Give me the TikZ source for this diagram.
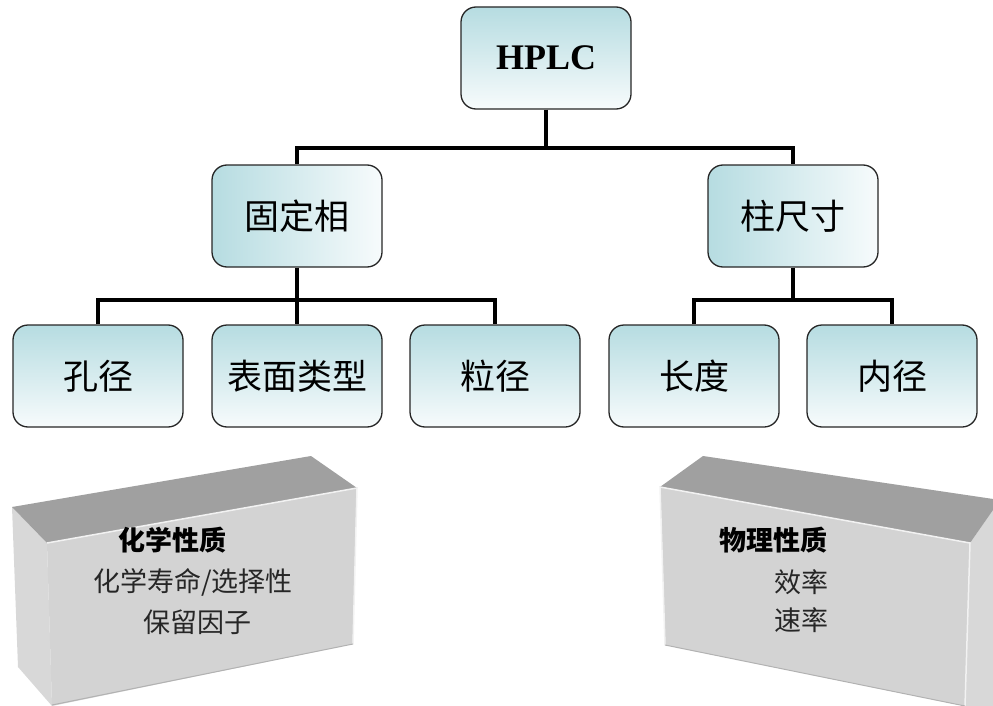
\documentclass[tikz,border=0pt]{standalone}
\usepackage{fontspec}
\setmainfont{Liberation Serif}
\newfontfamily\cjk{Noto Sans CJK SC}
\usetikzlibrary{calc}
\definecolor{cyanA}{HTML}{B6DCE1}
\definecolor{whiteA}{HTML}{F7FBFC}
\definecolor{topface}{HTML}{A0A0A0}
\definecolor{frontface}{HTML}{D3D3D3}
\definecolor{sideface}{HTML}{D8D8D8}
\definecolor{edgehl}{HTML}{F2F2F2}
\begin{document}
\begin{tikzpicture}[x=1pt,y=-1pt,
  box/.style={draw=black!85, line width=1.3pt, rounded corners=15pt, minimum width=170pt, minimum height=102pt, inner sep=0pt, font=\cjk\fontsize{35}{40}\selectfont},
  vgrad/.style={box, top color=cyanA, bottom color=whiteA},
  hgrad/.style={box, left color=cyanA, right color=whiteA},
  conn/.style={line width=4.5pt, line join=miter},
  lbl/.style={inner sep=0pt, font=\cjk\fontsize{27}{30}\selectfont, text=black!85},
  lblb/.style={inner sep=0pt, font=\cjk\fontsize{27}{30}\selectfont\bfseries},
]
\useasboundingbox (0,0) rectangle (993,706);
% 3D boxes
\fill[sideface] (12,507) -- (47,543) -- (52,706) -- (18,667) -- cycle;
\fill[topface] (12,507) -- (311,456) -- (357,488) -- (47,543) -- cycle;
\fill[frontface] (47,543) -- (357,488) -- (353,644) -- (52,706) -- cycle;
\draw[edgehl, line width=1.5pt] (47,543) -- (357,488) -- (353,644);
\draw[black!30, line width=1pt] (52,705) -- (353,644);
\fill[sideface] (970,543) -- (1000,500) -- (1000,706) -- (965,706) -- cycle;
\fill[topface] (660,487) -- (703,456) -- (1000,500) -- (970,543) -- cycle;
\fill[frontface] (660,487) -- (970,543) -- (965,706) -- (665,645) -- cycle;
\draw[edgehl, line width=1.5pt] (665,645) -- (660,487) -- (970,543) -- (965,706);
\draw[black!30, line width=1pt] (665,645) -- (965,706);
\node[lblb] (chemT) at (172,540) {化学性质};
\node[lbl] (chem1) at (193,582) {化学寿命/选择性};
\node[lbl] (chem2) at (197,622) {保留因子};
\node[lblb] (physT) at (773,540) {物理性质};
\node[lbl] (phys1) at (801,582) {效率};
\node[lbl] (phys2) at (801,620) {速率};
% tree nodes
\node[vgrad, font=\fontsize{36}{40}\selectfont\bfseries] (hplc) at (546,58) {HPLC};
\node[hgrad] (gd) at (297,216) {固定相};
\node[hgrad] (zc) at (793,216) {柱尺寸};
\node[vgrad] (kj) at (98,376) {孔径};
\node[vgrad] (bm) at (297,376) {表面类型};
\node[vgrad] (lj) at (495,376) {粒径};
\node[vgrad] (cd) at (694,376) {长度};
\node[vgrad] (nj) at (892,376) {内径};
% connectors
\coordinate (busA) at (546,148);
\coordinate (busB) at (297,300);
\coordinate (busC) at (793,300);
\draw[conn] (hplc.south) -- (busA);
\draw[conn] (gd.north) |- (busA) -| (zc.north);
\draw[conn] (gd.south) -- (busB);
\draw[conn] (kj.north) |- (busB) -| (lj.north);
\draw[conn] (busB) -- (bm.north);
\draw[conn] (zc.south) -- (busC);
\draw[conn] (cd.north) |- (busC) -| (nj.north);
\end{tikzpicture}
\end{document}
